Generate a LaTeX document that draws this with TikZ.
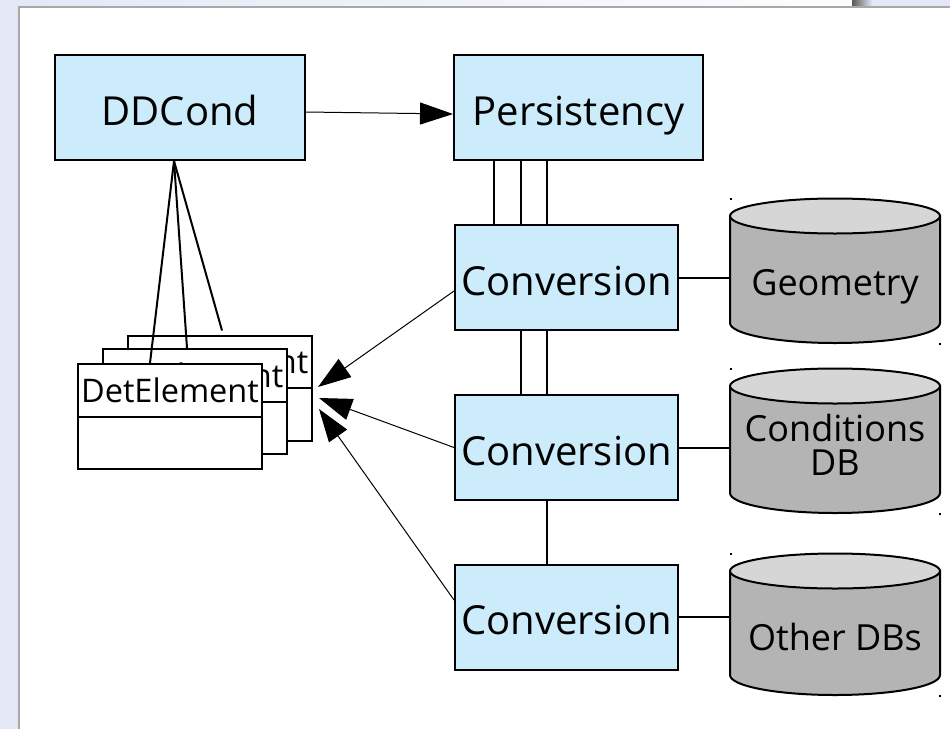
\documentclass[tikz,border=0pt]{standalone}
\usepackage{fontspec}
\setmainfont{Open Sans}
\usetikzlibrary{arrows.meta}
\definecolor{pagebg}{HTML}{E4E8F5}
\definecolor{boxblue}{HTML}{CCEBFB}
\definecolor{cylside}{HTML}{B4B4B4}
\definecolor{cyltop}{HTML}{D6D6D6}
\definecolor{paneledge}{HTML}{A8A8A8}

\begin{document}
\begin{tikzpicture}[x=1pt,y=-1pt,
  blockbox/.style={draw=black, line width=2pt, fill=boxblue, inner sep=0pt,
    minimum height=105pt, text height=35.5pt, text depth=0pt,
    font=\fontsize{40}{46}\selectfont},
  debox/.style={draw=black, line width=2pt, fill=white, inner sep=0pt,
    minimum width=184pt, minimum height=105pt},
  delabel/.style={inner sep=0pt, text height=23pt, text depth=0pt,
    font=\fontsize{32.5}{38}\selectfont},
  dblabel/.style={inner sep=0pt, align=center, font=\fontsize{36}{34}\selectfont},
  cylbody/.style={draw=black, line width=2pt, fill=cylside},
  cylcap/.style={draw=black, line width=2pt, fill=cyltop},
  link/.style={draw=black, line width=2pt},
  conn/.style={draw=black, line width=1pt},
  tip/.style={-{Triangle[length=33pt,width=22pt]}},
  marker/.style={fill=black, inner sep=0pt, minimum size=2.5pt}]

\useasboundingbox (0,0) rectangle (950,729);

% window background and white page
\fill[pagebg] (0,0) rectangle (950,729);
\shade[left color=pagebg, right color=white!92!pagebg] (0,0) rectangle (852,7);
\shade[left color=black!65, right color=pagebg] (852,0) rectangle (872,7);
\fill[white] (19,7) rectangle (950,729);
\draw[paneledge, line width=1.5pt] (19,729) -- (19,7) -- (950,7);

% main blocks
\node[blockbox, minimum width=250pt] (dd)   at (180,107.5)   {DDCond};
\node[blockbox, minimum width=249pt] (pers) at (578.5,107.5) {Persistency};
\node[blockbox, minimum width=223pt] (cv1)  at (566.5,277.5) {Conversion};
\node[blockbox, minimum width=223pt] (cv2)  at (566.5,447.5) {Conversion};
\node[blockbox, minimum width=223pt] (cv3)  at (566.5,617)   {Conversion};

% links between persistency and converters
\foreach \dx in {-72.5,-45.5,-19.5}
  \draw[link] ([xshift=\dx pt]cv1.north) -- ([xshift=\dx pt]cv1.north |- pers.south);
\foreach \dx in {-45.5,-19.5}
  \draw[link] ([xshift=\dx pt]cv2.north) -- ([xshift=\dx pt]cv2.north |- cv1.south);
\draw[link] ([xshift=-19.5pt]cv3.north) -- ([xshift=-19.5pt]cv3.north |- cv2.south);

% databases
\newcommand{\database}[5]{% name, top y, bottom y, label, label y
  \path[cylbody] (730,#2) -- (730,#3)
     arc[start angle=180, end angle=0, x radius=105, y radius=20] -- (940,#2) -- cycle;
  \draw[cylcap] (835,#2) ellipse[x radius=105, y radius=17.5];
  \coordinate (#1) at (730,{(#2+#3)/2});
  \node[dblabel] (#1-text) at (835,#5) {#4};
  \node[marker] (#1-m1) at (731,{#2-17}) {};
  \node[marker] (#1-m2) at (940,{#3+21}) {};
}
\database{geo}{216}{323}{Geometry}{287}
\database{cond}{386}{493}{Conditions\\DB}{445}
\database{other}{571}{675}{Other DBs}{637}

\draw[link] (cv1.east) -- (cv1.east -| geo);
\draw[link] (cv2.east) -- (cv2.east -| cond);
\draw[link] (cv3.east) -- (cv3.east -| other);

% stacked detector elements, back to front
\foreach \n/\cx/\cy in {de3/219.5/388, de2/194.5/401.5, de1/170/416.5}{
  \node[debox] (\n) at (\cx,\cy) {};
  \draw[link] (\n.west) -- (\n.east);
  \node[delabel] (\n-text) at ([yshift=26pt]\n.center) {DetElement};
}

% DDCond to detector elements
\coordinate (ddfoot) at ([xshift=-6pt]dd.south);
\coordinate (de3end) at ([xshift=2.5pt,yshift=4pt]de3.north);
\draw[link] (ddfoot) -- ([xshift=-20pt]de1.north);
\draw[link] (ddfoot) -- ([xshift=-7.5pt]de2.north);
\draw[link] (ddfoot) -- (de3end);

% DDCond uses persistency
\draw[conn, tip] ([yshift=-4.5pt]dd.east) -- ([yshift=-6.5pt]pers.west);

% converters feed the detector elements
\coordinate (t1) at (318,387);
\coordinate (t2) at (319,398);
\coordinate (t3) at (319,409);
\draw[conn, tip] ([yshift=-13.5pt]cv1.west) -- (t1);
\draw[conn, tip] (cv2.west) -- (t2);
\draw[conn, tip] ([yshift=17pt]cv3.west) -- (t3);
\end{tikzpicture}
\end{document}
